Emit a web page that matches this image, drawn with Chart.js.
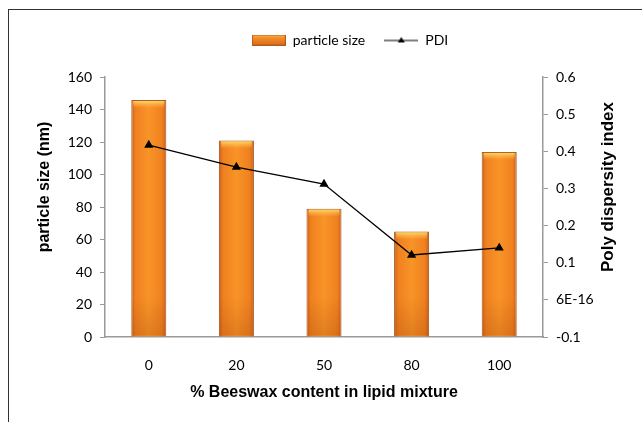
<!DOCTYPE html>
<html>
<head>
<meta charset="utf-8">
<script src="https://cdn.jsdelivr.net/npm/chart.js@4/dist/chart.umd.min.js"></script>
<style>
  html, body { margin: 0; padding: 0; background: #fff; }
  #wrap { position: relative; width: 642px; height: 422px; overflow: hidden; }
  #frame { position: absolute; left: 8px; top: 9px; width: 700px; height: 500px;
           border-top: 1px solid #333; border-left: 1px solid #333; pointer-events: none; }
</style>
</head>
<body>
<div id="wrap">
  <canvas id="chart" width="642" height="422"></canvas>
  <div id="frame"></div>
</div>
<script>
// % beeswax in the lipid mixture
const beeswax = ['0', '20', '50', '80', '100'];
// particle size (nm)
const particleSize = [146, 121, 79, 65, 114];
// poly dispersity index
const pdi = [0.417, 0.358, 0.312, 0.121, 0.140];
// right axis labels, bottom to top
const pdiTickLabels = ['-0.1', '6E-16', '0.1', '0.2', '0.3', '0.4', '0.5', '0.6'];

const tickFont = { family: 'Lato', size: 14 };
const titleFont = { family: 'Liberation Sans', size: 16, weight: 'bold' };

// shaded orange for the bars, darker at the sides
function barShade(ctx, x0, x1) {
    const g = ctx.createLinearGradient(x0, 0, x1, 0);
    g.addColorStop(0, '#c8601a');
    g.addColorStop(0.12, '#f0801f');
    g.addColorStop(0.5, '#f89428');
    g.addColorStop(0.88, '#f0801f');
    g.addColorStop(1, '#c8601a');
    return g;
}

// legend swatches
function barSwatch() {
    const c = document.createElement('canvas');
    c.width = 34; c.height = 11;
    const x = c.getContext('2d');
    const g = x.createLinearGradient(0, 0, 0, 11);
    g.addColorStop(0, '#fbc25a');
    g.addColorStop(0.3, '#f58d26');
    g.addColorStop(1, '#d9691c');
    x.fillStyle = g;
    x.fillRect(0, 0, 34, 11);
    x.strokeStyle = '#b45a1c';
    x.strokeRect(0.5, 0.5, 33, 10);
    return c;
}
function lineSwatch() {
    const c = document.createElement('canvas');
    c.width = 34; c.height = 11;
    const x = c.getContext('2d');
    x.strokeStyle = '#000';
    x.lineWidth = 1.2;
    x.beginPath(); x.moveTo(0, 6); x.lineTo(34, 6); x.stroke();
    x.fillStyle = '#000';
    x.beginPath(); x.moveTo(17, 2.5); x.lineTo(20.5, 8); x.lineTo(13.5, 8); x.closePath(); x.fill();
    return c;
}

// light cap along the top of each bar, darker foot
const barCaps = {
    id: 'barCaps',
    afterDatasetDraw(chart, args) {
        if (args.index !== 1) return;
        const ctx = chart.ctx;
        chart.getDatasetMeta(1).data.forEach(bar => {
            const w = bar.width;
            const g = ctx.createLinearGradient(0, bar.y, 0, bar.y + 8);
            g.addColorStop(0, 'rgba(255,230,120,0.95)');
            g.addColorStop(1, 'rgba(255,200,90,0)');
            ctx.save();
            ctx.fillStyle = g;
            ctx.fillRect(bar.x - w / 2 + 2, bar.y + 1, w - 4, 8);
            const f = ctx.createLinearGradient(0, bar.base - 40, 0, bar.base);
            f.addColorStop(0, 'rgba(150,60,10,0)');
            f.addColorStop(1, 'rgba(150,60,10,0.25)');
            ctx.fillStyle = f;
            ctx.fillRect(bar.x - w / 2 + 1, bar.base - 40, w - 2, 39);
            ctx.restore();
        });
    }
};

// both value-axis titles read bottom to top
const axisTitles = {
    id: 'axisTitles',
    afterDraw(chart) {
        const ctx = chart.ctx;
        const yMid = 187;
        ctx.save();
        ctx.fillStyle = '#000';
        ctx.textAlign = 'center';
        ctx.textBaseline = 'middle';
        [['particle size (nm)', 45, 16], ['Poly dispersity index', 608, 17]].forEach(([text, x, size]) => {
            ctx.save();
            ctx.font = 'bold ' + size + 'px "Liberation Sans"';
            ctx.translate(x, yMid);
            ctx.rotate(-Math.PI / 2);
            ctx.fillText(text, 0, 0);
            ctx.restore();
        });
        ctx.restore();
    }
};

new Chart(document.getElementById('chart'), {
    data: {
        labels: beeswax,
        datasets: [{
            type: 'line',
            label: 'PDI',
            data: pdi,
            yAxisID: 'y1',
            borderColor: '#000',
            backgroundColor: '#000',
            borderWidth: 1.3,
            pointStyle: 'triangle',
            pointRadius: 4,
            pointBackgroundColor: '#000',
            tension: 0,
            order: 0
        }, {
            type: 'bar',
            label: 'particle size',
            data: particleSize,
            yAxisID: 'y',
            backgroundColor(ctx) {
                const chart = ctx.chart;
                if (!chart.chartArea) return '#f08a24';
                const xs = chart.scales.x;
                const cx = xs.getPixelForValue(ctx.dataIndex);
                const w = xs.width / beeswax.length * 0.4;
                return barShade(chart.ctx, cx - w / 2, cx + w / 2);
            },
            borderColor: '#a9561c',
            borderWidth: 1,
            categoryPercentage: 1,
            barPercentage: 0.4,
            order: 1
        }]
    },
    options: {
        responsive: false,
        animation: false,
        layout: { padding: { left: 58, right: 0, top: 14, bottom: 20 } },
        plugins: {
            tooltip: { enabled: false },
            // empty title used as a spacer between legend and plot
            title: { display: true, text: '', font: { size: 1 }, padding: { top: 0, bottom: 19 }, weight: 2000 },
            legend: {
                position: 'top',
                weight: 3000,
                labels: {
                    font: { family: 'Lato', size: 14 },
                    color: '#000',
                    padding: 19,
                    usePointStyle: true,
                    pointStyleWidth: 34,
                    generateLabels(chart) {
                        return [
                            { text: 'particle size', pointStyle: barSwatch(), datasetIndex: 1, fontColor: '#000', lineWidth: 0 },
                            { text: 'PDI', pointStyle: lineSwatch(), datasetIndex: 0, fontColor: '#000', lineWidth: 0 }
                        ];
                    }
                }
            }
        },
        scales: {
            x: {
                grid: { display: false, drawTicks: false },
                border: { color: '#9a9a9a', width: 1.5 },
                ticks: { font: tickFont, color: '#000', padding: 20 },
                title: { display: true, text: '% Beeswax content in lipid mixture', font: titleFont, color: '#000', padding: 0 },
                afterFit(scale) { scale.height = 65; }
            },
            y: {
                position: 'left',
                min: 0, max: 160,
                ticks: { stepSize: 20, font: tickFont, color: '#000', padding: 8 },
                grid: { display: true, drawOnChartArea: false, tickLength: 5, color: '#9a9a9a' },
                border: { color: '#9a9a9a', width: 1.5 },
                afterFit(scale) { scale.width = 47; }
            },
            y1: {
                position: 'right',
                min: -0.1, max: 0.6,
                ticks: {
                    stepSize: 0.1, font: tickFont, color: '#000', padding: 8,
                    callback: (v, i) => pdiTickLabels[i]
                },
                grid: { display: true, drawOnChartArea: false, tickLength: 5, color: '#9a9a9a' },
                border: { color: '#9a9a9a', width: 1.5 },
                afterFit(scale) { scale.width = 99; }
            }
        }
    },
    plugins: [barCaps, axisTitles]
});
</script>
</body>
</html>
